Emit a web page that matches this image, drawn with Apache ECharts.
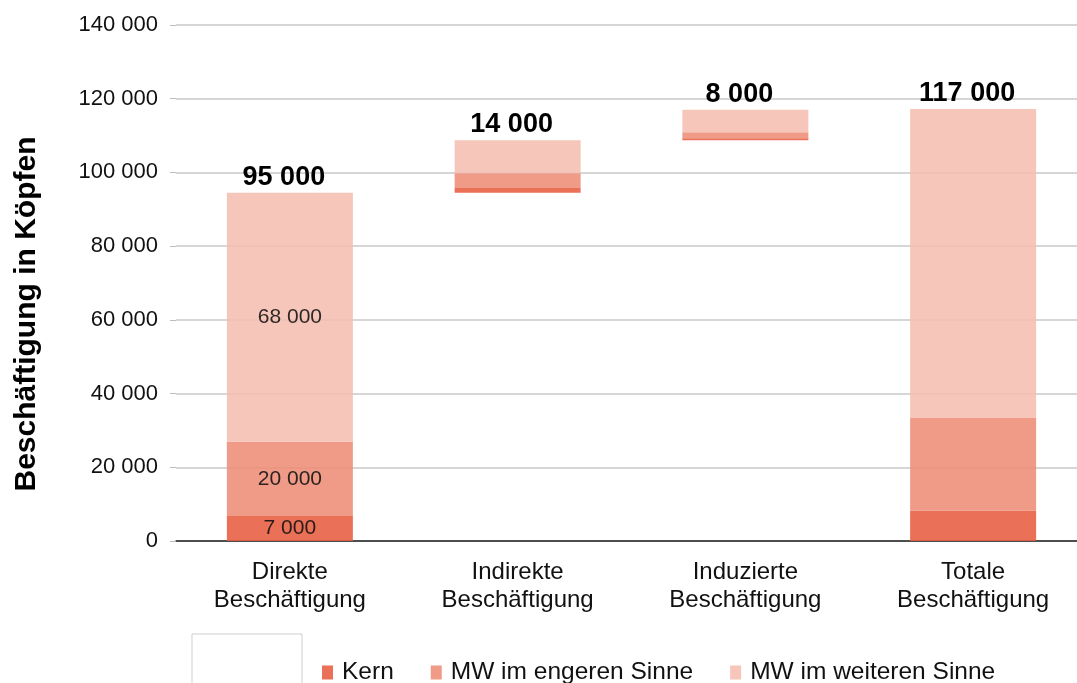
<!DOCTYPE html>
<html>
<head>
<meta charset="utf-8">
<title>Beschäftigung in Köpfen</title>
<script src="https://cdn.jsdelivr.net/npm/echarts@6/dist/echarts.min.js"></script>
<style>
  html, body { margin: 0; padding: 0; background: #fff; }
  #chart { width: 1077px; height: 683px; }
</style>
</head>
<body>
<div id="chart"></div>
<script>
  // Daten
  const categories = ['Direkte\nBeschäftigung', 'Indirekte\nBeschäftigung', 'Induzierte\nBeschäftigung', 'Totale\nBeschäftigung'];
  const kern = [6800, 1300, 600, 8200];
  const engeren = [20100, 4000, 1600, 25300];
  const weiteren = [67600, 8900, 6100, 83700];
  // Basis: Wasserfall-Sockel (Direkte + Indirekte werden aufaddiert, Totale steht auf 0)
  const isFloating = [false, true, true, false];

  const totals = kern.map((v, i) => v + engeren[i] + weiteren[i]);
  const base = [];
  let run = 0;
  totals.forEach((t, i) => {
    base.push(isFloating[i] ? run : 0);
    if (i < totals.length - 1) run += t;
  });
  const tops = totals.map((t, i) => t + base[i]);

  const font = "'Liberation Sans', Arial, sans-serif";
  const fmt = v => String(Math.round(v / 1000) * 1000).replace(/\B(?=(\d{3})+(?!\d))/g, ' ');
  const withInside = arr => arr.map((v, i) => ({value: v, label: {show: i === 0}}));

  const insideLabel = {
    position: 'inside',
    fontFamily: font,
    fontSize: 21,
    color: '#111',
    formatter: p => fmt(p.value)
  };

  const option = {
    animation: false,
    textStyle: {fontFamily: font},
    grid: {left: 176, width: 911, top: 25, bottom: 142, outerBoundsMode: 'none', containLabel: false},
    legend: {
      data: ['Kern', 'MW im engeren Sinne', 'MW im weiteren Sinne'],
      left: 317,
      top: 655,
      itemWidth: 11,
      itemHeight: 14,
      itemGap: 37,
      icon: 'rect',
      textStyle: {fontFamily: font, fontSize: 24.5, color: '#111', padding: [0, 0, 0, 4]}
    },
    xAxis: {
      type: 'category',
      data: categories,
      axisLine: {lineStyle: {color: '#222', width: 1.5}},
      axisTick: {inside: true, length: 6, lineStyle: {color: '#222'}},
      axisLabel: {fontFamily: font, fontSize: 24, color: '#111', lineHeight: 28, margin: 17}
    },
    yAxis: {
      type: 'value',
      min: 0,
      max: 140000,
      interval: 20000,
      axisLine: {show: false},
      axisTick: {show: true, length: 6, lineStyle: {color: '#bbb'}},
      splitLine: {lineStyle: {color: '#c8c8c8', width: 1.5}},
      axisLabel: {fontFamily: font, fontSize: 22, color: '#111', margin: 18, formatter: v => fmt(v)}
    },
    graphic: [
      {
        type: 'text',
        x: 27,
        y: 314,
        rotation: Math.PI / 2,
        style: {
          text: 'Beschäftigung in Köpfen',
          fontFamily: font,
          fontSize: 30,
          fontWeight: 'bold',
          fill: '#000',
          align: 'center',
          verticalAlign: 'middle'
        }
      },
      {
        type: 'rect',
        shape: {x: 192, y: 634, width: 110, height: 60},
        style: {fill: '#fff', stroke: '#cfcfcf', lineWidth: 1}
      }
    ],
    series: [
      {
        name: 'Basis',
        type: 'bar',
        stack: 'b',
        barWidth: 126,
        silent: true,
        itemStyle: {color: 'transparent'},
        data: base
      },
      {
        name: 'Kern',
        type: 'bar',
        stack: 'b',
        barWidth: 126,
        itemStyle: {color: '#E75C40', opacity: 0.88},
        label: insideLabel,
        data: withInside(kern)
      },
      {
        name: 'MW im engeren Sinne',
        type: 'bar',
        stack: 'b',
        barWidth: 126,
        itemStyle: {color: '#EE8D77', opacity: 0.88},
        label: insideLabel,
        data: withInside(engeren)
      },
      {
        name: 'MW im weiteren Sinne',
        type: 'bar',
        stack: 'b',
        barWidth: 126,
        itemStyle: {color: '#F5BEB1', opacity: 0.88},
        label: insideLabel,
        data: withInside(weiteren)
      },
      {
        name: 'Summe',
        type: 'scatter',
        symbolSize: 0,
        silent: true,
        z: 10,
        itemStyle: {opacity: 1},
        label: {
          show: true,
          position: 'top',
          distance: 2,
          offset: [-6, 0],
          fontFamily: font,
          fontSize: 27,
          fontWeight: 'bold',
          color: '#000',
          formatter: p => fmt(totals[p.dataIndex])
        },
        data: tops
      }
    ]
  };

  echarts.init(document.getElementById('chart')).setOption(option);
</script>
</body>
</html>
